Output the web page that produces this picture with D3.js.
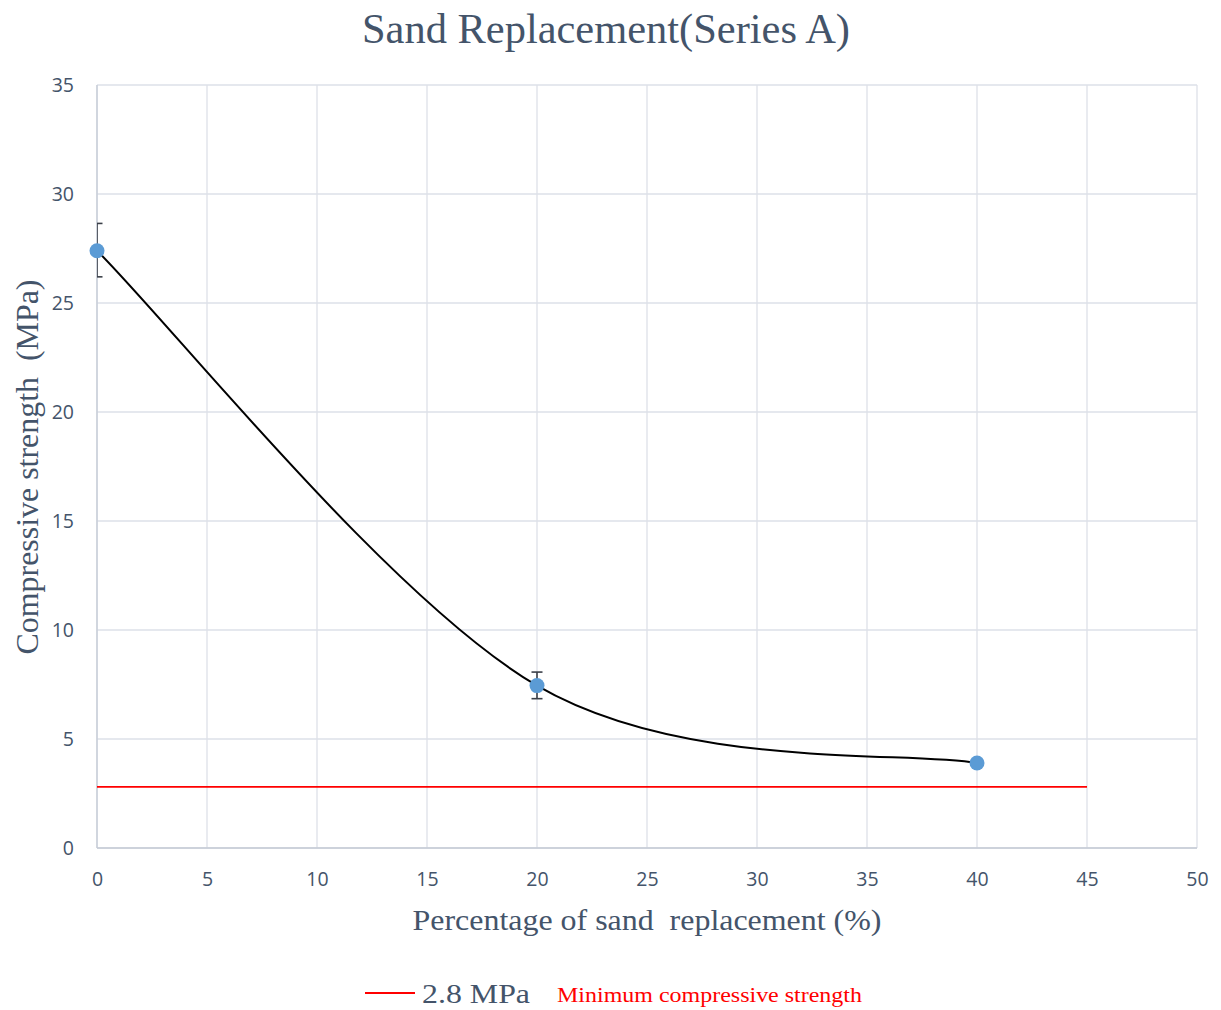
<!DOCTYPE html>
<html><head><meta charset="utf-8">
<script src="https://cdn.jsdelivr.net/npm/d3@7"></script>
<style>body{margin:0;background:#fff}text{white-space:pre}</style>
</head><body>
<svg id="c" width="1221" height="1010"></svg>
<script>
const replacement = [0, 20, 40];
const strength = [27.4, 7.45, 3.9];
const errorBars = [
  {x: 0, lo: 26.2, hi: 28.65},
  {x: 20, lo: 6.85, hi: 8.07},
  {x: 40, lo: 3.9, hi: 3.9}
];
const minStrength = 2.8;
const minRange = [0, 45];
const xTicks = [0,5,10,15,20,25,30,35,40,45,50];
const yTicks = [0,5,10,15,20,25,30,35];

const svg = d3.select("#c");
const L = 97, R = 1197, T = 85, B = 848;
const x = d3.scaleLinear().domain([0,50]).range([L,R]);
const y = d3.scaleLinear().domain([0,35]).range([B,T]);
const txt = "#44546a";

// gridlines
svg.append("g").selectAll("line").data(yTicks).join("line")
  .attr("x1", L).attr("x2", R).attr("y1", d=>y(d)).attr("y2", d=>y(d))
  .attr("stroke", "#dde1e8").attr("stroke-width", 1.3);
svg.append("g").selectAll("line").data(xTicks).join("line")
  .attr("y1", T).attr("y2", B).attr("x1", d=>x(d)).attr("x2", d=>x(d))
  .attr("stroke", "#dde1e8").attr("stroke-width", 1.3);
// axes lines
svg.append("line").attr("x1", L).attr("x2", L).attr("y1", T).attr("y2", B).attr("stroke", "#c5cbd5").attr("stroke-width", 1.3);
svg.append("line").attr("x1", L).attr("x2", R).attr("y1", B).attr("y2", B).attr("stroke", "#c5cbd5").attr("stroke-width", 1.3);

// tick labels via axes
const xa = svg.append("g").attr("transform", `translate(0,${B})`)
  .call(d3.axisBottom(x).tickValues(xTicks).tickSize(0).tickPadding(24).tickFormat(d3.format("d")));
const ya = svg.append("g").attr("transform", `translate(${L},0)`)
  .call(d3.axisLeft(y).tickValues(yTicks).tickSize(0).tickPadding(23).tickFormat(d3.format("d")));
[xa, ya].forEach(a => {
  a.select(".domain").remove();
  a.selectAll("text").attr("fill", txt).style("font-family", "'Open Sans', 'Noto Sans', sans-serif").style("font-size", "19.5px");
});

// clip
svg.append("clipPath").attr("id", "clip").append("rect")
  .attr("x", L).attr("y", T - 20).attr("width", R - L + 20).attr("height", B - T + 40);
const plot = svg.append("g").attr("clip-path", "url(#clip)");

// minimum line
plot.append("line").attr("x1", x(minRange[0])).attr("x2", x(minRange[1]))
  .attr("y1", y(minStrength)).attr("y2", y(minStrength))
  .attr("stroke", "#ff0000").attr("stroke-width", 1.8);

// Excel-like smooth curve
function excelSmooth(context) {
  let pts = [];
  return {
    areaStart(){}, areaEnd(){},
    lineStart(){ pts = []; },
    point(px, py){ pts.push([px, py]); },
    lineEnd(){
      const n = pts.length;
      if (!n) return;
      context.moveTo(pts[0][0], pts[0][1]);
      for (let i = 0; i < n - 1; i++) {
        const p0 = pts[Math.max(i - 1, 0)], p1 = pts[i], p2 = pts[i + 1], p3 = pts[Math.min(i + 2, n - 1)];
        const c1 = [p1[0] + (p2[0] - p0[0]) / 6, p1[1] + (p2[1] - p0[1]) / 6];
        const c2 = [p2[0] - (p3[0] - p1[0]) / 6, p2[1] - (p3[1] - p1[1]) / 6];
        context.bezierCurveTo(c1[0], c1[1], c2[0], c2[1], p2[0], p2[1]);
      }
    }
  };
}
const data = replacement.map((r, i) => ({x: r, y: strength[i]}));
plot.append("path").datum(data)
  .attr("d", d3.line().x(d=>x(d.x)).y(d=>y(d.y)).curve(excelSmooth))
  .attr("fill", "none").attr("stroke", "#000").attr("stroke-width", 2);

// error bars
const eb = plot.append("g").attr("stroke", "#3a3f48").attr("stroke-width", 1.6).attr("fill", "none");
errorBars.filter(d => d.hi > d.lo).forEach(d => {
  eb.append("line").attr("x1", x(d.x)).attr("x2", x(d.x)).attr("y1", y(d.lo)).attr("y2", y(d.hi));
  eb.append("line").attr("x1", x(d.x) - 5.5).attr("x2", x(d.x) + 5.5).attr("y1", y(d.lo)).attr("y2", y(d.lo));
  eb.append("line").attr("x1", x(d.x) - 5.5).attr("x2", x(d.x) + 5.5).attr("y1", y(d.hi)).attr("y2", y(d.hi));
});

// markers
svg.append("g").selectAll("circle").data(data).join("circle")
  .attr("cx", d=>x(d.x)).attr("cy", d=>y(d.y)).attr("r", 7.5)
  .attr("fill", "#5b9bd5");

// titles
const serif = "'Liberation Serif', 'DejaVu Serif', serif";
svg.append("text").attr("x", 606).attr("y", 43).attr("text-anchor", "middle")
  .attr("textLength", 488).attr("lengthAdjust", "spacingAndGlyphs")
  .style("font-family", serif).style("font-size", "42px").attr("fill", txt)
  .text("Sand Replacement(Series A)");
svg.append("text").attr("transform", "translate(38,467) rotate(-90)").attr("text-anchor", "middle")
  .attr("textLength", 375).attr("lengthAdjust", "spacingAndGlyphs")
  .style("font-family", serif).style("font-size", "31px").attr("fill", txt)
  .text("Compressive strength  (MPa)");
svg.append("text").attr("x", 647).attr("y", 930).attr("text-anchor", "middle")
  .attr("textLength", 469).attr("lengthAdjust", "spacingAndGlyphs")
  .style("font-family", serif).style("font-size", "29px").attr("fill", txt)
  .text("Percentage of sand  replacement (%)");

// legend
svg.append("line").attr("x1", 365).attr("x2", 415).attr("y1", 993).attr("y2", 993)
  .attr("stroke", "#ff0000").attr("stroke-width", 1.8);
svg.append("text").attr("x", 422).attr("y", 1003)
  .attr("textLength", 108).attr("lengthAdjust", "spacingAndGlyphs")
  .style("font-family", serif).style("font-size", "27px").attr("fill", txt).text("2.8 MPa");
svg.append("text").attr("x", 557).attr("y", 1002)
  .attr("textLength", 305).attr("lengthAdjust", "spacingAndGlyphs")
  .style("font-family", serif).style("font-size", "21px").attr("fill", "#ff0000").text("Minimum compressive strength");
</script>
</body></html>
